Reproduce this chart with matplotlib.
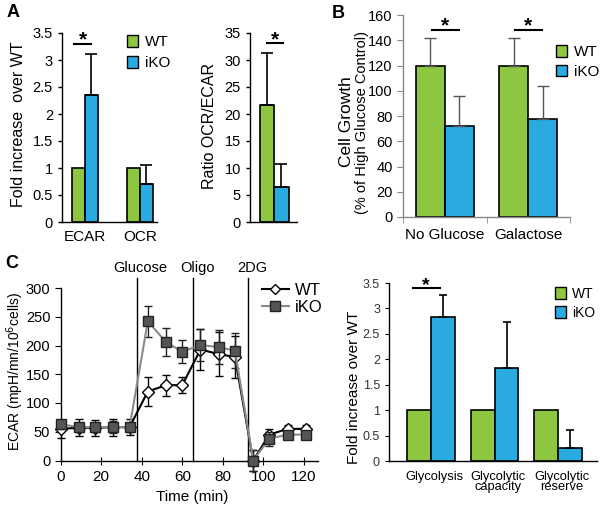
import matplotlib
matplotlib.use("Agg")
import matplotlib.pyplot as plt
from matplotlib.patches import Patch
from matplotlib.lines import Line2D

plt.rcParams['font.family'] = ['Liberation Sans', 'DejaVu Sans']

W, H = 605, 509
GREEN = '#8dc63f'
BLUE = '#29abe2'

# Panel A data
a_groups = ['ECAR', 'OCR']
a_wt = [1.0, 1.0]
a_ko = [2.36, 0.70]
a_ko_err = [0.76, 0.35]
a_ratio_wt, a_ratio_ko = 21.6, 6.5
a_ratio_wt_err, a_ratio_ko_err = 9.7, 4.3

# Panel B data
b_groups = ['No Glucose', 'Galactose']
b_wt = [120, 120]
b_wt_err = [22, 22]
b_ko = [72, 78]
b_ko_err = [24, 26]

# Panel C data (ECAR time course)
c_time = [0, 9, 17, 26, 34, 43, 52, 60, 69, 78, 86, 95, 103, 112, 121]
c_wt = [55, 57, 57, 58, 58, 120, 131, 131, 193, 185, 180, 0, 45, 55, 55]
c_wt_err = [15, 15, 14, 15, 14, 25, 18, 14, 35, 38, 37, 18, 10, 6, 6]
c_ko = [63, 58, 58, 58, 58, 242, 206, 189, 201, 197, 191, 0, 38, 45, 45]
c_ko_err = [8, 8, 8, 10, 8, 27, 24, 20, 28, 30, 30, 18, 12, 6, 6]
c_inject = [37.5, 65.3, 92.4]
c_inject_labels = ['Glucose', 'Oligo', '2DG']

# Panel D data
d_groups = ['Glycolysis', 'Glycolytic\ncapacity', 'Glycolytic\nreserve']
d_wt = [1.0, 1.0, 1.0]
d_ko = [2.83, 1.82, 0.25]
d_ko_err = [0.44, 0.92, 0.35]


def px_axes(fig, l, t, r, b):
    return fig.add_axes([l / W, 1 - b / H, (r - l) / W, (b - t) / H])


def style(ax, color='black'):
    for s in ['top', 'right']:
        ax.spines[s].set_visible(False)
    for s in ['left', 'bottom']:
        ax.spines[s].set_color(color)
        ax.spines[s].set_linewidth(1.0)


fig = plt.figure(figsize=(W / 100, H / 100), dpi=100)
bar_kw = dict(edgecolor='black', linewidth=1.2)

# ---------------- A (left) ----------------
ax = px_axes(fig, 62, 33, 157, 222)
style(ax)
w = 0.236
x = range(len(a_groups))
ax.bar([i - w / 2 for i in x], a_wt, w, color=GREEN, label='WT', **bar_kw)
ax.bar([i + w / 2 for i in x], a_ko, w, color=BLUE, label='iKO', **bar_kw)
ax.errorbar([i + w / 2 for i in x], a_ko, yerr=[[0, 0], a_ko_err], fmt='none',
            ecolor='black', elinewidth=1.2, capsize=4.5, capthick=1.2)
ax.set_xlim(-0.418, 1.31)
ax.set_ylim(0, 3.5)
ax.set_yticks([0, 0.5, 1, 1.5, 2, 2.5, 3, 3.5])
ax.set_yticklabels(['0', '0.5', '1', '1.5', '2', '2.5', '3', '3.5'])
ax.set_xticks(list(x))
ax.set_xticklabels(a_groups, fontsize=11)
ax.tick_params(axis='x', length=0, pad=6)
ax.tick_params(axis='y', labelsize=10.5, length=3, width=1)
ax.text(-0.453, 0.52, 'Fold increase  over WT', transform=ax.transAxes, rotation=90,
        ha='center', va='center', fontsize=11.5)
ax.plot([-0.2, 0.11], [3.3, 3.3], color='black', lw=1.5, clip_on=False)
ax.text(-0.045, 3.27, '*', ha='center', va='baseline', fontsize=15, fontweight='bold')
ax.legend(handles=[Patch(facecolor=GREEN, edgecolor='black', label='WT'),
                   Patch(facecolor=BLUE, edgecolor='black', label='iKO')],
          loc='upper left', bbox_to_anchor=(127 / W, 1 - 35 / H),
          bbox_transform=fig.transFigure, frameon=False, fontsize=11,
          handlelength=0.75, handleheight=0.8, handletextpad=0.4,
          labelspacing=0.45, borderpad=0, borderaxespad=0)

# ---------------- A (right) ----------------
ax = px_axes(fig, 250, 33, 297, 222)
style(ax)
ax.bar([0], [a_ratio_wt], 1, color=GREEN, **bar_kw)
ax.bar([1], [a_ratio_ko], 1, color=BLUE, **bar_kw)
ax.errorbar([0, 1], [a_ratio_wt, a_ratio_ko],
            yerr=[[0, 0], [a_ratio_wt_err, a_ratio_ko_err]], fmt='none',
            ecolor='black', elinewidth=1.2, capsize=4.5, capthick=1.2)
ax.set_xlim(-1.17, 2.07)
ax.set_ylim(0, 35)
ax.set_yticks(range(0, 36, 5))
ax.set_xticks([])
ax.tick_params(axis='y', labelsize=10.5, length=3, width=1)
ax.text(-0.862, 0.51, 'Ratio OCR/ECAR', transform=ax.transAxes, rotation=90,
        ha='center', va='center', fontsize=11.5)
ax.plot([0, 1.1], [33.1, 33.1], color='black', lw=1.5, clip_on=False)
ax.text(0.55, 32.7, '*', ha='center', va='baseline', fontsize=15, fontweight='bold')

fig.text(7 / W, 1 - 17 / H, 'A', fontsize=13, fontweight='bold')

# ---------------- B ----------------
ax = px_axes(fig, 403, 15, 570, 217)
style(ax, '#888888')
w = 0.35
x = range(len(b_groups))
ax.bar([i - w / 2 for i in x], b_wt, w, color=GREEN, **bar_kw)
ax.bar([i + w / 2 for i in x], b_ko, w, color=BLUE, **bar_kw)
ax.errorbar([i - w / 2 for i in x], b_wt, yerr=[[0, 0], b_wt_err], fmt='none',
            ecolor='#555555', elinewidth=1, capsize=4.5, capthick=1)
ax.errorbar([i + w / 2 for i in x], b_ko, yerr=[[0, 0], b_ko_err], fmt='none',
            ecolor='#555555', elinewidth=1, capsize=4.5, capthick=1)
ax.set_xlim(-0.5, 1.5)
ax.set_ylim(0, 160)
ax.set_yticks(range(0, 161, 20))
ax.set_xticks(list(x))
ax.set_xticklabels(b_groups, fontsize=11)
ax.set_xticks([-0.5, 0.5, 1.5], minor=True)
ax.tick_params(axis='x', which='major', length=0, pad=8)
ax.tick_params(axis='x', which='minor', length=4, color='#888888')
ax.tick_params(axis='y', labelsize=10.5, length=4, color='#888888')
ax.text(-0.337, 0.47, 'Cell Growth', transform=ax.transAxes, rotation=90,
        ha='center', va='center', fontsize=12.5)
ax.text(-0.247, 0.47, '(% of High Glucose Control)', transform=ax.transAxes,
        rotation=90, ha='center', va='center', fontsize=10.5)
for g in x:
    ax.plot([g - 0.157, g + 0.169], [148, 148], color='black', lw=1.5, clip_on=False)
    ax.text(g, 147, '*', ha='center', va='baseline', fontsize=15, fontweight='bold')
ax.legend(handles=[Patch(facecolor=GREEN, edgecolor='black', label='WT'),
                   Patch(facecolor=BLUE, edgecolor='black', label='iKO')],
          loc='upper left', bbox_to_anchor=(556 / W, 1 - 45 / H),
          bbox_transform=fig.transFigure, frameon=False, fontsize=11,
          handlelength=0.75, handleheight=0.8, handletextpad=0.4,
          labelspacing=0.35, borderpad=0, borderaxespad=0)

fig.text(332 / W, 1 - 18 / H, 'B', fontsize=13, fontweight='bold')

# ---------------- C ----------------
ax = px_axes(fig, 60.7, 288, 318, 460.5)
style(ax)
for xv, lab in zip(c_inject, c_inject_labels):
    ax.plot([xv, xv], [0, 318], color='black', lw=1.0, clip_on=False, zorder=1)
    ax.text(xv + 2, 322, lab, ha='center', va='bottom', fontsize=10.5)
ax.errorbar(c_time, c_wt, yerr=c_wt_err, color='black', lw=1.5, marker='D',
            markersize=6, markerfacecolor='white', markeredgecolor='black',
            markeredgewidth=1, ecolor='black', elinewidth=1, capsize=3,
            capthick=1, clip_on=False, zorder=3)
ax.errorbar(c_time, c_ko, yerr=c_ko_err, color='#8a8a8a', lw=1.5, marker='s',
            markersize=7.5, markerfacecolor='#555555', markeredgecolor='#222222',
            markeredgewidth=1, ecolor='#222222', elinewidth=1, capsize=3,
            capthick=1, clip_on=False, zorder=4)
ax.set_xlim(0, 127)
ax.set_ylim(0, 300)
ax.set_xticks(range(0, 121, 20))
ax.set_yticks(range(0, 301, 50))
ax.tick_params(axis='x', direction='inout', length=6, labelsize=11, pad=4)
ax.tick_params(axis='y', length=4, labelsize=10.5)
ax.text(-0.178, 0.515, 'ECAR (mpH/mn/10$^6$cells)', transform=ax.transAxes,
        rotation=90, ha='center', va='center', fontsize=10)
ax.text(0.51, -0.21, 'Time (min)', transform=ax.transAxes, ha='center',
        va='center', fontsize=11)
ax.legend(handles=[Line2D([], [], color='black', lw=1.5, marker='D', markersize=5,
                          markerfacecolor='white', markeredgecolor='black', label='WT'),
                   Line2D([], [], color='#8a8a8a', lw=1.5, marker='s', markersize=7,
                          markerfacecolor='#555555', markeredgecolor='#222222',
                          label='iKO')],
          loc='upper left', bbox_to_anchor=(262 / W, 1 - 283 / H),
          bbox_transform=fig.transFigure, frameon=False, fontsize=12,
          handlelength=1.6, handletextpad=0.4, labelspacing=0.1,
          borderpad=0, borderaxespad=0)

fig.text(5 / W, 1 - 268 / H, 'C', fontsize=13, fontweight='bold')

# ---------------- D ----------------
ax = px_axes(fig, 389, 283, 597, 461)
style(ax)
w = 0.375
x = range(len(d_groups))
ax.bar([i - w / 2 for i in x], d_wt, w, color=GREEN, **bar_kw)
ax.bar([i + w / 2 for i in x], d_ko, w, color=BLUE, **bar_kw)
ax.errorbar([i + w / 2 for i in x], d_ko, yerr=[[0, 0, 0], d_ko_err], fmt='none',
            ecolor='black', elinewidth=1.2, capsize=3, capthick=1.2)
ax.set_xlim(-0.66, 2.61)
ax.set_ylim(0, 3.5)
ax.set_yticks([0, 0.5, 1, 1.5, 2, 2.5, 3, 3.5])
ax.set_yticklabels(['0', '0.5', '1', '1.5', '2', '2.5', '3', '3.5'])
ax.set_xticks([i + 0.06 for i in x])
ax.set_xticklabels(d_groups, fontsize=9.3, linespacing=0.85, va='top')
ax.tick_params(axis='x', length=0, pad=7)
ax.tick_params(axis='y', labelsize=9, length=3, labelcolor='#333333')
ax.text(-0.168, 0.416, 'Fold increase over WT', transform=ax.transAxes, rotation=90,
        ha='center', va='center', fontsize=11)
ax.plot([-0.28, 0.14], [3.40, 3.40], color='black', lw=1.5, clip_on=False)
ax.text(-0.08, 3.37, '*', ha='center', va='baseline', fontsize=14, fontweight='bold')
ax.legend(handles=[Patch(facecolor=GREEN, edgecolor='black', label='WT'),
                   Patch(facecolor=BLUE, edgecolor='black', label='iKO')],
          loc='upper left', bbox_to_anchor=(555 / W, 1 - 287 / H),
          bbox_transform=fig.transFigure, frameon=False, fontsize=10,
          handlelength=0.8, handleheight=0.9, handletextpad=0.4,
          labelspacing=0.35, borderpad=0, borderaxespad=0)

fig.savefig('out.png', dpi=100)
